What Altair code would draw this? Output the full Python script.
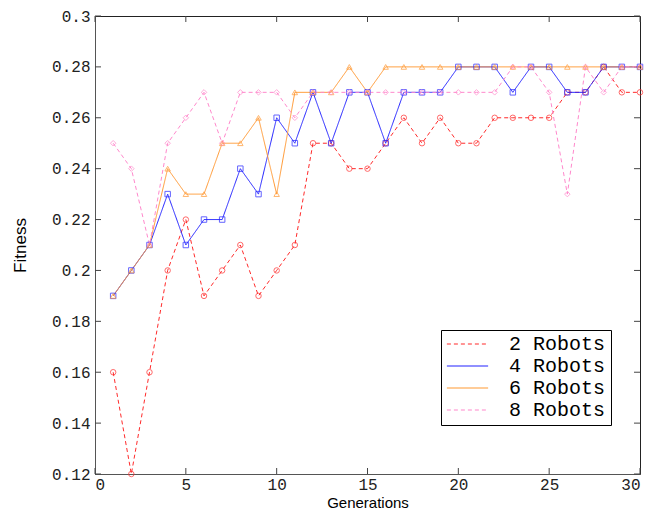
import altair as alt
import pandas as pd

generations = [1, 2, 3, 4, 5, 6, 7, 8, 9, 10, 11, 12, 13, 14, 15,
               16, 17, 18, 19, 20, 21, 22, 23, 24, 25, 26, 27, 28, 29, 30]
series_names = ["2 Robots", "4 Robots", "6 Robots", "8 Robots"]
robots_2 = [0.16, 0.12, 0.16, 0.20, 0.22, 0.19, 0.20, 0.21, 0.19, 0.20,
            0.21, 0.25, 0.25, 0.24, 0.24, 0.25, 0.26, 0.25, 0.26, 0.25,
            0.25, 0.26, 0.26, 0.26, 0.26, 0.27, 0.27, 0.28, 0.27, 0.27]
robots_4 = [0.19, 0.20, 0.21, 0.23, 0.21, 0.22, 0.22, 0.24, 0.23, 0.26,
            0.25, 0.27, 0.25, 0.27, 0.27, 0.25, 0.27, 0.27, 0.27, 0.28,
            0.28, 0.28, 0.27, 0.28, 0.28, 0.27, 0.27, 0.28, 0.28, 0.28]
robots_6 = [0.19, 0.20, 0.21, 0.24, 0.23, 0.23, 0.25, 0.25, 0.26, 0.23,
            0.27, 0.27, 0.27, 0.28, 0.27, 0.28, 0.28, 0.28, 0.28, 0.28,
            0.28, 0.28, 0.28, 0.28, 0.28, 0.28, 0.28, 0.28, 0.28, 0.28]
robots_8 = [0.25, 0.24, 0.21, 0.25, 0.26, 0.27, 0.25, 0.27, 0.27, 0.27,
            0.26, 0.27, 0.27, 0.27, 0.27, 0.27, 0.27, 0.27, 0.27, 0.27,
            0.27, 0.27, 0.28, 0.28, 0.27, 0.23, 0.28, 0.27, 0.28, 0.28]

x_ticks = [0, 5, 10, 15, 20, 25, 30]
y_ticks = [0.12, 0.14, 0.16, 0.18, 0.20, 0.22, 0.24, 0.26, 0.28, 0.30]

colors = ["#ff2a2a", "#2222ff", "#ff9933", "#ff88cc"]
dashes = [[4, 3], [1, 0], [1, 0], [4, 3]]
shapes = ["circle", "square", "triangle-up", "diamond"]

rows = []
for name, vals in zip(series_names, [robots_2, robots_4, robots_6, robots_8]):
    for g, v in zip(generations, vals):
        rows.append({"Generation": g, "Fitness": v, "series": name})
df = pd.DataFrame(rows)

W, H = 545, 458
TICK_FONT = "Liberation Mono"

xs = alt.Scale(domain=[0, 30], nice=False, zero=False)
ys = alt.Scale(domain=[0.12, 0.30], nice=False, zero=False)
color_scale = alt.Scale(domain=series_names, range=colors)
dash_scale = alt.Scale(domain=series_names, range=dashes)

x_axis = alt.Axis(values=x_ticks, title="Generations", ticks=False, grid=False,
                  labelFont=TICK_FONT, labelFontSize=16, labelColor="#222",
                  labelPadding=2, titleFont="Liberation Sans", titleFontSize=15,
                  titleFontWeight="normal", titleColor="#000", titlePadding=3,
                  domainColor="#555")
y_axis = alt.Axis(values=y_ticks, title="Fitness", ticks=False, grid=False,
                  format="~g", labelFont=TICK_FONT, labelFontSize=16,
                  labelColor="#222", labelPadding=5, titleFont="Liberation Sans",
                  titleFontSize=17, titleFontWeight="normal", titleColor="#000",
                  titlePadding=22, domainColor="#555")

base = alt.Chart(df)

legend = alt.Legend(title=None, orient="none", legendX=346, legendY=314,
                    symbolType="stroke", symbolSize=1700, clipHeight=18,
                    labelFont=TICK_FONT, labelFontSize=20, labelColor="#000",
                    labelOffset=20, strokeColor="#000", fillColor="#fff",
                    padding=5, symbolStrokeWidth=1.2)

lines = base.mark_line(strokeWidth=1).encode(
    x=alt.X("Generation:Q", scale=xs, axis=x_axis),
    y=alt.Y("Fitness:Q", scale=ys, axis=y_axis),
    color=alt.Color("series:N", scale=color_scale, sort=series_names, legend=legend),
    strokeDash=alt.StrokeDash("series:N", scale=dash_scale, sort=series_names,
                              legend=legend),
    detail="series:N",
)

point_layers = []
for name, col, shp in zip(series_names, colors, shapes):
    point_layers.append(
        base.transform_filter(alt.datum.series == name).mark_point(
            filled=False, size=30, strokeWidth=1, color=col, shape=shp
        ).encode(
            x=alt.X("Generation:Q", scale=xs),
            y=alt.Y("Fitness:Q", scale=ys),
        )
    )

xt = pd.DataFrame({"t": x_ticks})
yt = pd.DataFrame({"t": y_ticks})
tick_color = "#444"
bottom_ticks = alt.Chart(xt).mark_rule(color=tick_color).encode(
    x=alt.X("t:Q", scale=xs), y=alt.value(H), y2=alt.value(H - 6))
top_ticks = alt.Chart(xt).mark_rule(color=tick_color).encode(
    x=alt.X("t:Q", scale=xs), y=alt.value(0), y2=alt.value(6))
left_ticks = alt.Chart(yt).mark_rule(color=tick_color).encode(
    y=alt.Y("t:Q", scale=ys), x=alt.value(0), x2=alt.value(6))
right_ticks = alt.Chart(yt).mark_rule(color=tick_color).encode(
    y=alt.Y("t:Q", scale=ys), x=alt.value(W), x2=alt.value(W - 6))

chart = alt.layer(bottom_ticks, top_ticks, left_ticks, right_ticks, lines,
                  *point_layers).properties(
    width=W, height=H,
    autosize=alt.AutoSizeParams(type="none"),
    padding={"left": 87, "top": 8, "right": 10, "bottom": 40},
    background="#ffffff",
).configure_view(stroke="#222", strokeWidth=1)

chart.save("out.html", embed_options={"renderer": "svg", "actions": False})
